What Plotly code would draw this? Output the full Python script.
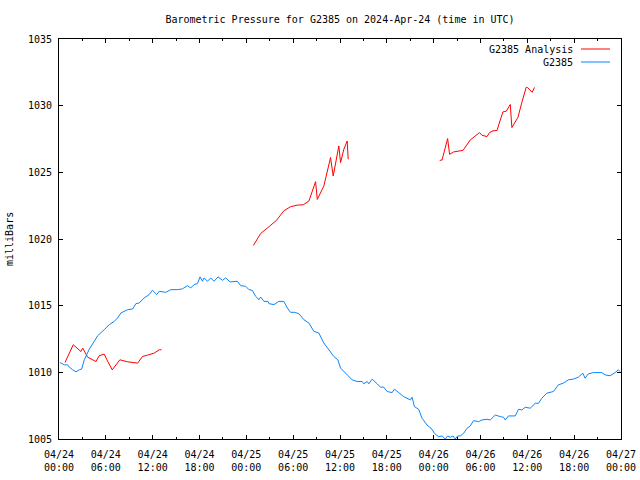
import pandas as pd
import plotly.graph_objects as go

BASE = pd.Timestamp("2024-04-24 00:00")

# Observations G2385 (hours since 04/24 00:00 UTC, pressure mb)
obs_hours = [0.13, 0.68, 1.11, 1.32, 1.75, 2.17, 2.60, 2.90, 3.24, 3.88, 4.51, 4.95, 5.79, 6.43, 7.07,
             7.51, 7.93, 8.79, 9.43, 9.85, 10.27, 10.91, 11.55, 11.98, 12.53, 12.83, 13.68, 14.32, 15.18,
             15.82, 16.46, 16.88, 17.30, 17.74, 18.07, 18.38, 18.58, 19.02, 19.44, 19.86, 20.37, 20.94,
             21.36, 21.91, 22.85, 23.28, 23.92, 24.34, 24.77, 25.19, 25.62, 25.83, 26.26, 26.77, 26.90,
             27.54, 28.17, 28.81, 29.25, 29.67, 30.18, 30.73, 31.37, 32.01, 32.65, 33.29, 33.93, 34.57,
             35.21, 35.72, 36.07, 36.92, 37.56, 38.20, 38.84, 39.05, 39.48, 39.69, 40.12, 40.76, 41.18,
             41.60, 42.04, 42.68, 42.97, 43.52, 44.16, 45.02, 45.24, 45.53, 46.08, 46.51, 47.15, 47.79,
             48.09, 48.64, 49.07, 49.49, 49.79, 50.13, 50.48, 50.77, 51.07, 51.41, 51.84, 52.27, 52.69,
             53.11, 53.75, 54.19, 54.83, 55.25, 55.89, 56.53, 56.95, 57.17, 57.59, 58.45, 58.87, 59.30,
             59.73, 60.37, 61.01, 61.43, 61.86, 62.50, 63.35, 63.98, 64.62, 65.26, 65.90, 66.54, 67.10,
             67.40, 67.82, 68.46, 69.53, 69.96, 70.60, 71.24, 71.66, 71.88]
obs_mb = [1010.74, 1010.56, 1010.56, 1010.39, 1010.19, 1010.04, 1010.19, 1010.24, 1010.94, 1011.74,
          1012.32, 1012.74, 1013.20, 1013.57, 1013.82, 1014.08, 1014.45, 1014.70, 1014.75, 1015.15,
          1015.20, 1015.58, 1015.83, 1016.15, 1015.83, 1016.08, 1016.00, 1016.20, 1016.20, 1016.26,
          1016.50, 1016.33, 1016.58, 1016.65, 1017.16, 1016.83, 1017.08, 1016.83, 1017.08, 1016.83,
          1017.16, 1016.90, 1017.08, 1016.78, 1016.83, 1016.50, 1016.45, 1016.20, 1016.15, 1015.70,
          1015.45, 1015.65, 1015.32, 1015.32, 1015.15, 1015.08, 1015.32, 1015.32, 1014.83, 1014.50,
          1014.50, 1014.40, 1013.95, 1013.70, 1013.07, 1012.95, 1012.20, 1011.69, 1011.19, 1010.94,
          1010.32, 1009.81, 1009.44, 1009.31, 1009.31, 1009.14, 1009.31, 1009.14, 1009.49, 1009.14,
          1008.89, 1008.89, 1008.56, 1008.48, 1008.74, 1008.48, 1008.18, 1007.93, 1008.14, 1007.43,
          1007.23, 1006.56, 1006.05, 1005.73, 1005.43, 1005.17, 1005.23, 1005.00, 1005.23, 1005.13,
          1005.23, 1005.00, 1005.23, 1005.23, 1005.43, 1005.80, 1005.98, 1006.38, 1006.30, 1006.43,
          1006.48, 1006.43, 1006.80, 1006.68, 1006.63, 1006.43, 1006.73, 1006.73, 1007.23, 1007.18,
          1007.38, 1007.31, 1007.68, 1007.68, 1008.06, 1008.44, 1008.56, 1009.06, 1009.19, 1009.44,
          1009.49, 1009.64, 1009.94, 1009.56, 1009.89, 1009.98, 1009.98, 1009.81, 1009.74, 1009.98,
          1010.19, 1010.06]

# Analysis segments (hours, mb); None separates gaps
ana_hours = [0.77, 1.83, 2.81, 3.03, 3.67, 4.73, 5.15, 5.79, 6.14, 6.82, 7.80, 8.79, 10.07, 10.70,
             11.34, 12.19, 12.83, 13.13, None,
             24.90, 25.83, 26.90, 27.88, 28.81, 29.67, 30.53, 31.30, 32.01, 32.87, 33.09, 33.93, 34.79,
             35.13, 35.85, 36.07, 36.49, 36.92, 37.05, None,
             48.77, 49.07, 49.79, 50.04, 50.56, 51.76, 52.69, 53.88, 54.19, 54.83, 55.16, 55.60, 56.11,
             56.87, 57.30, 57.81, 58.02, 58.79, 59.30, 59.85, 60.02, 60.62, 60.92]
ana_mb = [1010.74, 1012.07, 1011.56, 1011.82, 1011.14, 1010.81, 1011.24, 1011.37, 1010.94, 1010.19,
          1010.94, 1010.79, 1010.69, 1011.19, 1011.29, 1011.44, 1011.69, 1011.69, None,
          1019.51, 1020.41, 1020.92, 1021.41, 1022.12, 1022.42, 1022.54, 1022.57, 1022.84, 1024.30,
          1022.97, 1023.97, 1026.11, 1024.72, 1026.98, 1025.73, 1026.73, 1027.35, 1025.98, None,
          1025.90, 1025.92, 1027.53, 1026.35, 1026.53, 1026.65, 1027.43, 1027.98, 1027.78, 1027.68,
          1027.98, 1028.11, 1028.14, 1029.53, 1029.59, 1030.09, 1028.36, 1029.11, 1030.24, 1031.37,
          1031.37, 1031.00, 1031.37]

TITLE = "Barometric Pressure for G2385 on 2024-Apr-24 (time in UTC)"
Y_LABEL = "milliBars"
LEGEND_NAMES = ["G2385 Analysis", "G2385"]
RED = "#ff0000"
BLUE = "#0a84ff"
FONT = "DejaVu Sans Mono"


def to_time(hours):
    return [None if h is None else BASE + pd.Timedelta(hours=h) for h in hours]


fig = go.Figure()
fig.add_trace(go.Scatter(x=to_time(ana_hours), y=ana_mb, mode="lines", name=LEGEND_NAMES[0],
                         line=dict(color=RED, width=1), connectgaps=False, showlegend=False))
fig.add_trace(go.Scatter(x=to_time(obs_hours), y=obs_mb, mode="lines", name=LEGEND_NAMES[1],
                         line=dict(color=BLUE, width=1), showlegend=False))

six_h = 6 * 3600 * 1000
fig.update_layout(
    width=640, height=480,
    margin=dict(l=59, r=19, t=39, b=41),
    paper_bgcolor="white", plot_bgcolor="white",
    font=dict(family=FONT, size=10, color="black"),
    title=dict(text=TITLE, x=0.5, xref="paper", y=1 - 19 / 480, yref="container",
               xanchor="center", yanchor="middle", font=dict(family=FONT, size=10)),
    xaxis=dict(
        type="date", automargin=False,
        range=[BASE, BASE + pd.Timedelta(hours=72)],
        tick0=BASE, dtick=six_h, tickformat="%m/%d<br>%H:%M",
        ticks="inside", ticklen=4, tickcolor="black", tickwidth=1,
        minor=dict(dtick=six_h // 2, ticks="inside", ticklen=2, tickcolor="black", showgrid=False),
        showline=True, linecolor="black", linewidth=1, mirror="allticks",
        showgrid=False, zeroline=False, ticklabelstandoff=6,
        tickfont=dict(family=FONT, size=10),
    ),
    yaxis=dict(
        range=[1005, 1035], dtick=5, tick0=1005, automargin=False,
        ticks="inside", ticklen=4, tickcolor="black", tickwidth=1,
        showline=True, linecolor="black", linewidth=1, mirror="allticks",
        showgrid=False, zeroline=False, ticklabelstandoff=4,
        tickfont=dict(family=FONT, size=10),
    ),
)

fig.add_annotation(text=Y_LABEL, xref="paper", yref="paper", x=(9 - 59) / 562, y=0.5,
                   textangle=-90, showarrow=False, xanchor="center", yanchor="middle",
                   font=dict(family=FONT, size=10))

legend_rows = [(LEGEND_NAMES[0], RED, 1 - (49 - 39) / 400), (LEGEND_NAMES[1], BLUE, 1 - (62 - 39) / 400)]
for name, color, yp in legend_rows:
    fig.add_annotation(text=name, xref="paper", yref="paper", x=(575 - 59) / 562, y=yp,
                       showarrow=False, xanchor="right", yanchor="middle",
                       font=dict(family=FONT, size=10))
    fig.add_shape(type="line", xref="paper", yref="paper", x0=(581 - 59) / 562, x1=(610 - 59) / 562,
                  y0=yp, y1=yp, line=dict(color=color, width=1))

fig.write_html("out.html", config={"displayModeBar": False, "staticPlot": True},
               post_script="document.body.style.margin='0';")
